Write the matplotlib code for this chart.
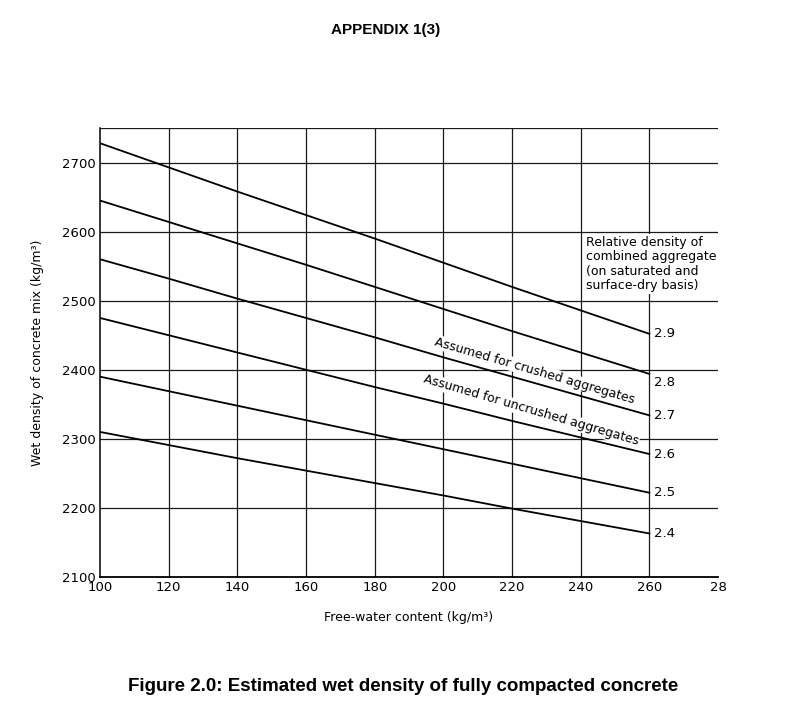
import matplotlib
matplotlib.use("Agg")
import matplotlib.pyplot as plt

# free-water content (kg/m3)
water = [100, 120, 140, 160, 180, 200, 220, 240, 260]

# wet density (kg/m3) for each relative density of combined aggregate
rd_labels = ["2.9", "2.8", "2.7", "2.6", "2.5", "2.4"]
d29 = [2728, 2693, 2658, 2624, 2590, 2555, 2520, 2486, 2452]
d28 = [2645, 2614, 2583, 2552, 2520, 2488, 2456, 2425, 2394]
d27 = [2560, 2532, 2503, 2475, 2447, 2418, 2390, 2362, 2334]
d26 = [2475, 2450, 2425, 2400, 2375, 2351, 2326, 2302, 2278]
d25 = [2390, 2369, 2348, 2327, 2306, 2285, 2264, 2243, 2222]
d24 = [2310, 2291, 2272, 2254, 2236, 2218, 2199, 2181, 2163]
densities = [d29, d28, d27, d26, d25, d24]
label_offsets = [0, -6, 0, 0, 0, 0]

xticks = [100, 120, 140, 160, 180, 200, 220, 240, 260, 280]
xticklabels = ["100", "120", "140", "160", "180", "200", "220", "240", "260", "28"]
yticks = [2100, 2200, 2300, 2400, 2500, 2600, 2700]

plt.rcParams["font.family"] = "DejaVu Sans"

fig = plt.figure(figsize=(7.9, 7.18), dpi=100)
ax = fig.add_axes([0.1266, 0.1964, 0.7823, 0.6253])

ax.set_xlim(100, 280)
ax.set_ylim(2100, 2750)

for xv in xticks[1:-1]:
    ax.axvline(xv, color="#1a1a1a", lw=0.9, zorder=1)
for yv in yticks[1:] + [2750]:
    ax.axhline(yv, color="#1a1a1a", lw=0.9, zorder=1)

for lab, dens, off in zip(rd_labels, densities, label_offsets):
    ax.plot(water, dens, color="black", lw=1.3, zorder=3)
    ax.annotate(lab, (water[-1], dens[-1]), xytext=(3, off),
                textcoords="offset points", va="center", ha="left",
                fontsize=9.5, zorder=4)

ax.text(241.5, 2594,
        "Relative density of\ncombined aggregate\n(on saturated and\nsurface-dry basis)",
        fontsize=9, va="top", ha="left", linespacing=1.15, zorder=2.5,
        bbox=dict(facecolor="white", edgecolor="none", pad=1.5))

ax.text(226.5, 2399, "Assumed for crushed aggregates", fontsize=9,
        rotation=-16.3, rotation_mode="anchor", ha="center", va="center",
        zorder=2.5, bbox=dict(facecolor="white", edgecolor="none", pad=0.5))
ax.text(225.5, 2341, "Assumed for uncrushed aggregates", fontsize=9,
        rotation=-16.3, rotation_mode="anchor", ha="center", va="center",
        zorder=2.5, bbox=dict(facecolor="white", edgecolor="none", pad=0.5))

ax.set_xticks(xticks)
ax.set_xticklabels(xticklabels, fontsize=9.5)
ax.set_yticks(yticks)
ax.set_yticklabels([str(v) for v in yticks], fontsize=9.5)
ax.tick_params(length=0, pad=3)

ax.spines["right"].set_visible(False)
ax.spines["top"].set_visible(False)
ax.spines["left"].set_linewidth(1.1)
ax.spines["bottom"].set_linewidth(1.3)

ax.set_xlabel("Free-water content (kg/m³)", fontsize=9, labelpad=12)
ax.set_ylabel("Wet density of concrete mix (kg/m³)", fontsize=9, labelpad=13)

fig.text(0.488, 0.958, "APPENDIX 1(3)", fontsize=11, fontweight="bold",
         family="Liberation Sans", ha="center", va="center")
fig.text(0.51, 0.044, "Figure 2.0: Estimated wet density of fully compacted concrete",
         fontsize=13.5, fontweight="bold", family="Liberation Sans",
         ha="center", va="center")

fig.savefig("out.png", dpi=100)
plt.close(fig)
